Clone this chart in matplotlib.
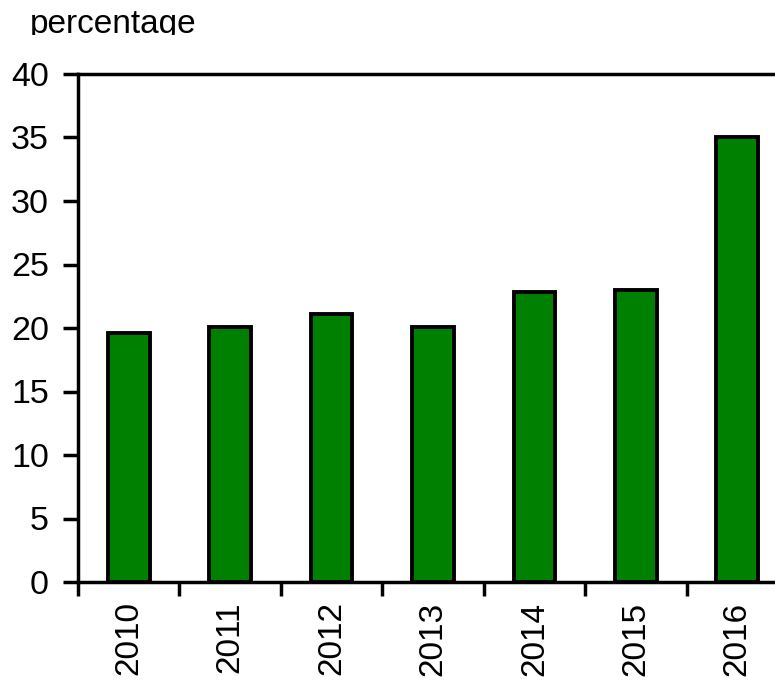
import numpy as np
import matplotlib
matplotlib.use("Agg")
import matplotlib.pyplot as plt
from matplotlib.patches import Rectangle

# chart data
years = ["2010", "2011", "2012", "2013", "2014", "2015", "2016"]
values = [19.6, 20.1, 21.1, 20.1, 22.8, 23.0, 35.0]
y_ticks = [0, 5, 10, 15, 20, 25, 30, 35, 40]

plt.rcParams.update({
    'font.family': ['Liberation Sans', 'DejaVu Sans'],
    'font.size': 24,
})

W, H = 775, 684
fig = plt.figure(figsize=(W / 100, H / 100), dpi=100)
# axes runs past the right edge, like the cropped original
x0, x1 = 78, 788
y0, y1 = 582, 74
ax = fig.add_axes([x0 / W, 1 - y0 / H, (x1 - x0) / W, (y0 - y1) / H])

x = np.arange(len(years))
ax.bar(x, values, width=0.41, color="#008000", edgecolor="black", linewidth=2.8)

ax.set_xlim(-0.5, len(years) - 0.5)
ax.set_ylim(0, 40)
ax.set_yticks(y_ticks)
ax.set_yticklabels([str(v) for v in y_ticks], fontsize=24.5)

# category labels centred on bars, ticks on category boundaries
ax.set_xticks(x)
ax.set_xticklabels(years, rotation=90, fontsize=24)
ax.tick_params(axis='x', length=0, pad=14)
ax.set_xticks(np.arange(len(years) + 1) - 0.5, minor=True)
ax.tick_params(axis='x', which='minor', direction='out', length=10, width=2.5)
ax.tick_params(axis='y', direction='out', length=11, width=2.5, pad=10)

for side in ['left', 'top', 'bottom']:
    ax.spines[side].set_linewidth(2.5)
ax.spines['right'].set_visible(False)

fig.text(30 / W, 1 - 33 / H, "percentage", fontsize=24, ha='left', va='baseline')
# the original crops the bottom of this label
fig.patches.append(Rectangle((0, 1 - 60 / H), 300 / W, 24.5 / H,
                             transform=fig.transFigure, facecolor='white',
                             edgecolor='none', zorder=10))

fig.savefig("out.png", dpi=100)
